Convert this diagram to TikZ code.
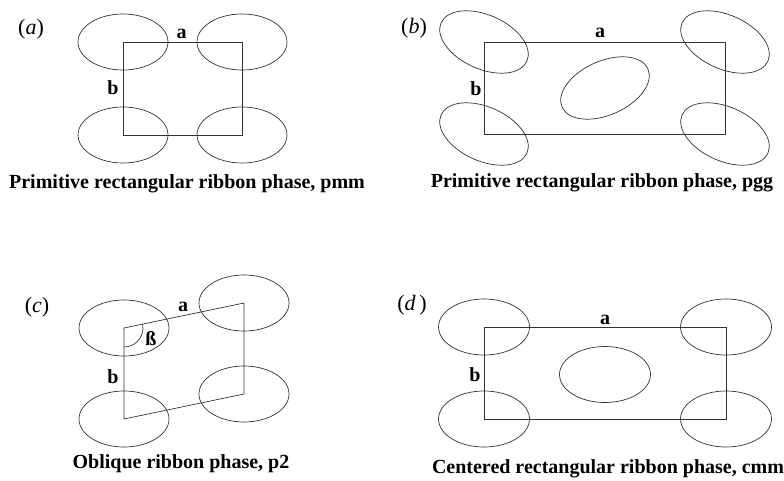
\documentclass[tikz,border=0pt]{standalone}
\usepackage{fontspec}
\setmainfont{Liberation Serif}
\usetikzlibrary{calc}
\begin{document}
\begin{tikzpicture}[x=1pt,y=1pt,
  ln/.style={draw=black!80,line width=0.7pt},
  blob/.style={ln},
  lbl/.style={font=\fontsize{20}{22}\selectfont\bfseries,inner sep=0pt},
  plbl/.style={font=\fontsize{22}{24}\selectfont,inner sep=0pt},
  captxt/.style={font=\fontsize{20}{22}\selectfont\bfseries,inner sep=0pt,anchor=base}]
\useasboundingbox (0,0) rectangle (784,480);
% ---------- (a) ----------
\coordinate (a1) at (123,438); \coordinate (a2) at (242,438);
\coordinate (a3) at (242,345); \coordinate (a4) at (123,345);
\draw[ln] (a1) -- (a2) -- (a3) -- (a4) -- cycle;
\foreach \p in {a1,a2,a3,a4} \draw[blob] (\p) ellipse [x radius=45,y radius=28];
\node[plbl] (la) at (31,451) {(\textit{a})};
\node[lbl] (aa) at (181.5,446.5) {a};
\node[lbl] (ab) at (113,392) {b};
\node[captxt] (ca) at (187,291) {Primitive rectangular ribbon phase, pmm};
% ---------- (b) ----------
\coordinate (b1) at (484,438); \coordinate (b2) at (725,438);
\coordinate (b3) at (725,346); \coordinate (b4) at (484,346);
\coordinate (b0) at (605,392);
\draw[ln] (b1) -- (b2) -- (b3) -- (b4) -- cycle;
\foreach \p in {b1,b2,b3,b4} \draw[blob,rotate around={-24:(\p)}] (\p) ellipse [x radius=47,y radius=27];
\draw[blob,rotate around={24:(b0)}] (b0) ellipse [x radius=47,y radius=27];
\node[plbl] (lb) at (414,452) {(\textit{b})};
\node[lbl] (ba) at (600,447) {a};
\node[lbl] (bb) at (476,391) {b};
\node[captxt] (cb) at (602,292) {Primitive rectangular ribbon phase, pgg};
% ---------- (c) ----------
\coordinate (c1) at (124,152); \coordinate (c2) at (244,177);
\coordinate (c3) at (244,86); \coordinate (c4) at (124,61);
\draw[ln] (c1) -- (c2) -- (c3) -- (c4) -- cycle;
\foreach \p in {c1,c2,c3,c4} \draw[blob] (\p) ellipse [x radius=45,y radius=28];
\draw[ln] ($(c1)+(11.8:19)$) arc [start angle=11.8,end angle=-90,radius=19];
\node[plbl] (lc) at (37,173) {(\textit{c})};
\node[lbl] (ca2) at (183,173) {a};
\node[lbl] (cb2) at (113,103) {b};
\node[lbl] (cbeta) at (151,141) {ß};
\node[captxt] (cc) at (181,12) {Oblique ribbon phase, p2};
% ---------- (d) ----------
\coordinate (d1) at (484,153); \coordinate (d2) at (726,153);
\coordinate (d3) at (726,61); \coordinate (d4) at (484,61);
\coordinate (d0) at (605,105.5);
\draw[ln] (d1) -- (d2) -- (d3) -- (d4) -- cycle;
\foreach \p in {d1,d2,d3,d4,d0} \draw[blob] (\p) ellipse [x radius=45.5,y radius=28];
\node[plbl] (ld) at (412,175) {(\textit{d}\,)};
\node[lbl] (da) at (605,160) {a};
\node[lbl] (db) at (475,105) {b};
\node[captxt] (cd) at (608,7) {Centered rectangular ribbon phase, cmm};
\end{tikzpicture}
\end{document}
